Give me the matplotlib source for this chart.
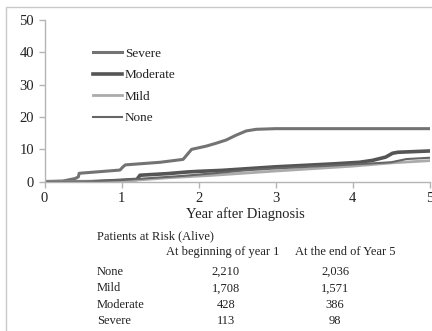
import matplotlib.pyplot as plt
from matplotlib.patches import Rectangle

plt.rcParams['font.family'] = ['Liberation Serif', 'DejaVu Serif']

# cumulative incidence (%) by severity group
severe_t = [0, 0.24, 0.40, 0.44, 0.45, 0.98, 1.02, 1.05, 1.50, 1.80, 1.91, 2.10, 2.23, 2.36, 2.49, 2.62, 2.75, 3.0, 5.0]
severe_v = [0, 0.2, 1.0, 1.5, 2.6, 3.6, 4.6, 5.2, 6.0, 6.9, 10.0, 11.0, 11.9, 12.9, 14.4, 15.7, 16.2, 16.4, 16.4]

moderate_t = [0, 0.6, 0.9, 1.2, 1.24, 1.6, 1.85, 2.0, 2.3, 3.0, 3.74, 4.09, 4.26, 4.43, 4.52, 4.59, 5.0]
moderate_v = [0, 0.0, 0.3, 0.7, 2.0, 2.5, 3.0, 3.2, 3.5, 4.6, 5.5, 6.0, 6.6, 7.6, 8.8, 9.1, 9.5]

mild_t = [0, 0.9, 1.2, 1.6, 2.2, 3.0, 4.0, 4.5, 5.0]
mild_v = [0, 0.0, 0.5, 1.2, 2.0, 3.3, 4.8, 5.8, 6.5]

none_t = [0, 0.5, 1.0, 1.3, 1.8, 2.2, 2.6, 3.0, 3.75, 4.5, 4.7, 5.0]
none_v = [0, 0.0, 0.5, 1.0, 1.8, 2.6, 3.5, 4.1, 5.0, 6.0, 7.0, 7.4]

# patients at risk table
risk_groups = ['None', 'Mild', 'Moderate', 'Severe']
risk_start = ['2,210', '1,708', '428', '113']
risk_end = ['2,036', '1,571', '386', '98']

W, H = 432, 331
fig = plt.figure(figsize=(W / 100, H / 100), dpi=100)
ax = fig.add_axes([44.5 / W, 1 - 181.7 / H, 385 / W, 161.7 / H])

ax.plot(severe_t, severe_v, color='#737373', lw=2.2, label='Severe')
ax.plot(moderate_t, moderate_v, color='#555555', lw=2.6, label='Moderate')
ax.plot(mild_t, mild_v, color='#ababab', lw=2.0, label='Mild')
ax.plot(none_t, none_v, color='#666666', lw=1.5, label='None')

ax.set_xlim(0, 5)
ax.set_ylim(0, 50)
ax.set_xticks(range(6))
ax.set_yticks(range(0, 51, 10))
for side in ['top', 'right']:
    ax.spines[side].set_visible(False)
for side in ['left', 'bottom']:
    ax.spines[side].set_color('#b5b5b5')
    ax.spines[side].set_linewidth(1.0)
ax.tick_params(colors='#b5b5b5', labelcolor='#222222', labelsize=10.5, length=4, width=1)

ax.set_xlabel('Year after Diagnosis', fontsize=10.5, color='#222222')
ax.xaxis.set_label_coords(0.523, -0.16)

leg = ax.legend(loc='upper left', bbox_to_anchor=(93 / W, 1 - 47.5 / H),
                bbox_transform=fig.transFigure, frameon=False, fontsize=9.5,
                handlelength=2.2, handletextpad=0.2, labelspacing=0.7,
                borderaxespad=0, borderpad=0)
for t in leg.get_texts():
    t.set_color('#222222')

# outer frame
fig.patches.append(Rectangle((6 / W, -0.1), 1.2, 1.1 - 7 / H, transform=fig.transFigure,
                             fill=False, edgecolor='#c8c8c8', lw=1.0))

def ftext(x, y, s, **kw):
    fig.text(x / W, 1 - y / H, s, fontsize=9, color='#222222', va='center', **kw)

ftext(97, 236, 'Patients at Risk (Alive)')
ftext(166, 252, 'At beginning of year 1')
ftext(295, 252, 'At the end of Year 5')
for i, g in enumerate(risk_groups):
    y = 272 + i * 16.3
    ftext(97, y, g)
    ftext(226, y, risk_start[i], ha='center')
    ftext(335, y, risk_end[i], ha='center')

fig.savefig('out.png', dpi=100, facecolor='white')
